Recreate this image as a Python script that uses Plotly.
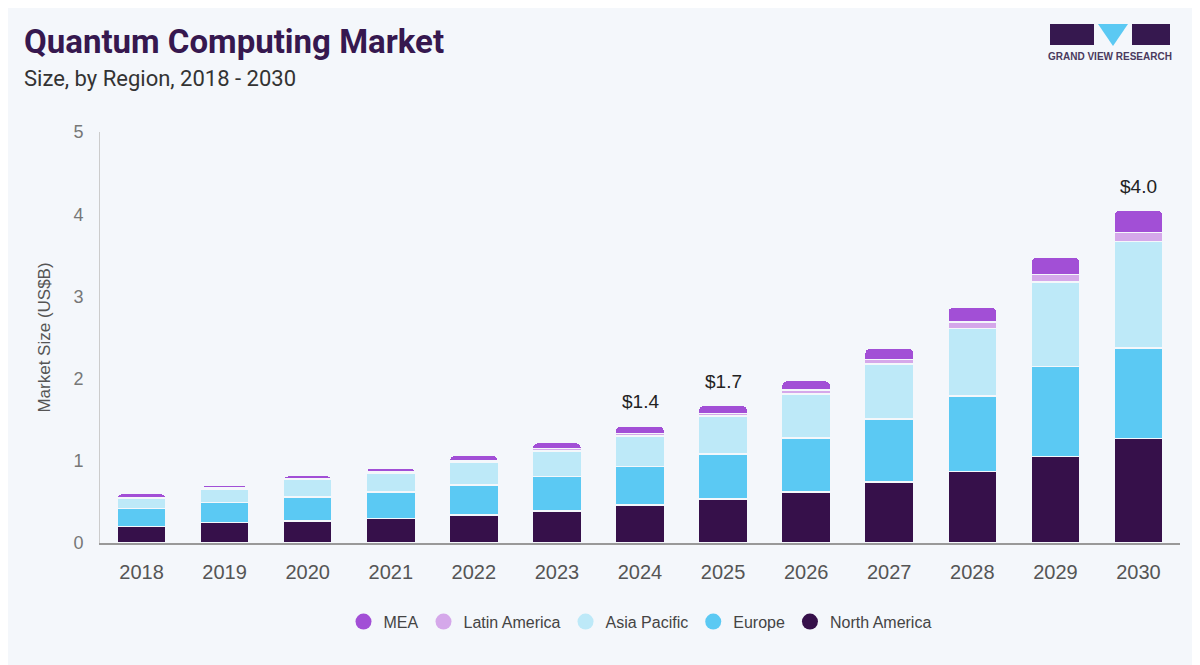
import plotly.graph_objects as go

years = ["2018","2019","2020","2021","2022","2023","2024","2025","2026","2027","2028","2029","2030"]
north_america = [0.20,0.25,0.27,0.30,0.34,0.39,0.46,0.535,0.62,0.74,0.87,1.05,1.27]
europe        = [0.22,0.24,0.29,0.32,0.365,0.42,0.47,0.55,0.66,0.77,0.92,1.10,1.10]
asia_pacific  = [0.12,0.16,0.21,0.23,0.275,0.31,0.37,0.46,0.53,0.67,0.82,1.025,1.295]
latin_america = [0.015,0.02,0.015,0.02,0.015,0.03,0.035,0.03,0.05,0.055,0.08,0.09,0.115]
mea           = [0.045,0.03,0.035,0.045,0.07,0.07,0.09,0.10,0.115,0.135,0.18,0.21,0.27]
labelled_years = ["2024","2025","2030"]
label_texts = ["$1.4","$1.7","$4.0"]

series = [("North America", north_america, "#36104a"),
          ("Europe", europe, "#5bc9f3"),
          ("Asia Pacific", asia_pacific, "#bde9f8"),
          ("Latin America", latin_america, "#d5a8ea"),
          ("MEA", mea, "#a24fd6")]

OFF = 8  # page offset seen in screenshot
L, R, T, B = 100 - OFF, 1180 - OFF, 132 - OFF, 543 - OFF
def px(x): return (x - OFF - L) / (R - L)
def py(y): return (B - (y - OFF)) / (B - T)

fig = go.Figure()
for name, vals, col in series:
    fig.add_trace(go.Bar(x=years, y=vals, name=name, showlegend=False,
                         marker=dict(color=col, line=dict(color="#f4f7fb", width=1.5))))
for name, vals, col in reversed(series):
    fig.add_trace(go.Scatter(x=[years[0]], y=[-10], mode="markers", name=name,
                             marker=dict(color=col, size=16, symbol="circle")))

totals = [sum(v) for v in zip(north_america, europe, asia_pacific, latin_america, mea)]
for yr, t in zip(labelled_years, label_texts):
    i = years.index(yr)
    fig.add_annotation(x=i, y=totals[i], text=t, showarrow=False, yshift=24,
                       font=dict(size=19, color="#222"))

fig.add_annotation(xref="paper", yref="paper", x=px(22), y=py(20), xanchor="left", yanchor="top",
                   text="<b>Quantum Computing Market</b>", showarrow=False,
                   font=dict(size=33, color="#36184f", family="Roboto"))
fig.add_annotation(xref="paper", yref="paper", x=px(22), y=py(64), xanchor="left", yanchor="top",
                   text="Size, by Region, 2018 - 2030", showarrow=False,
                   font=dict(size=22, color="#333", family="Roboto"))
fig.add_shape(type="rect", xref="paper", yref="paper", x0=px(1050), x1=px(1094), y0=py(45), y1=py(24),
              fillcolor="#36184f", line_width=0)
fig.add_shape(type="path", xref="paper", yref="paper",
              path=f"M {px(1098)} {py(24)} L {px(1128)} {py(24)} L {px(1113)} {py(46)} Z",
              fillcolor="#5bc9f3", line_width=0)
fig.add_shape(type="rect", xref="paper", yref="paper", x0=px(1132), x1=px(1170), y0=py(45), y1=py(24),
              fillcolor="#36184f", line_width=0)
fig.add_annotation(xref="paper", yref="paper", x=px(1110), y=py(56), xanchor="center", yanchor="middle",
                   text="<b>GRAND VIEW RESEARCH</b>",
                   showarrow=False, font=dict(size=10, color="#4a3a5e"))

fig.update_layout(
    width=1200, height=665, barmode="stack", bargap=0.41, barcornerradius=5,
    paper_bgcolor="#f4f7fb", plot_bgcolor="#f4f7fb",
    margin=dict(l=L, r=1200 - R, t=T, b=665 - B),
    font=dict(family="Liberation Sans, Arial", color="#555"),
    legend=dict(orientation="h", x=0.5, xanchor="center", y=-0.15, yanchor="top", traceorder="normal",
                font=dict(size=16, color="#444")),
    xaxis=dict(type="category", range=[-0.5, len(years) - 0.5], showline=True, linecolor="#999", linewidth=1.5,
               tickfont=dict(size=20, color="#555"), ticks="", showgrid=False, ticklabelstandoff=10),
    yaxis=dict(range=[0,5], dtick=1, showline=True, linecolor="#ccc", showgrid=False, zeroline=False,
               tickfont=dict(size=18, color="#777"), ticks="", ticklabelstandoff=12,
               title=dict(text="Market Size (US$B)", font=dict(size=17, color="#555"), standoff=18)),
)
fig.write_html("out.html")
